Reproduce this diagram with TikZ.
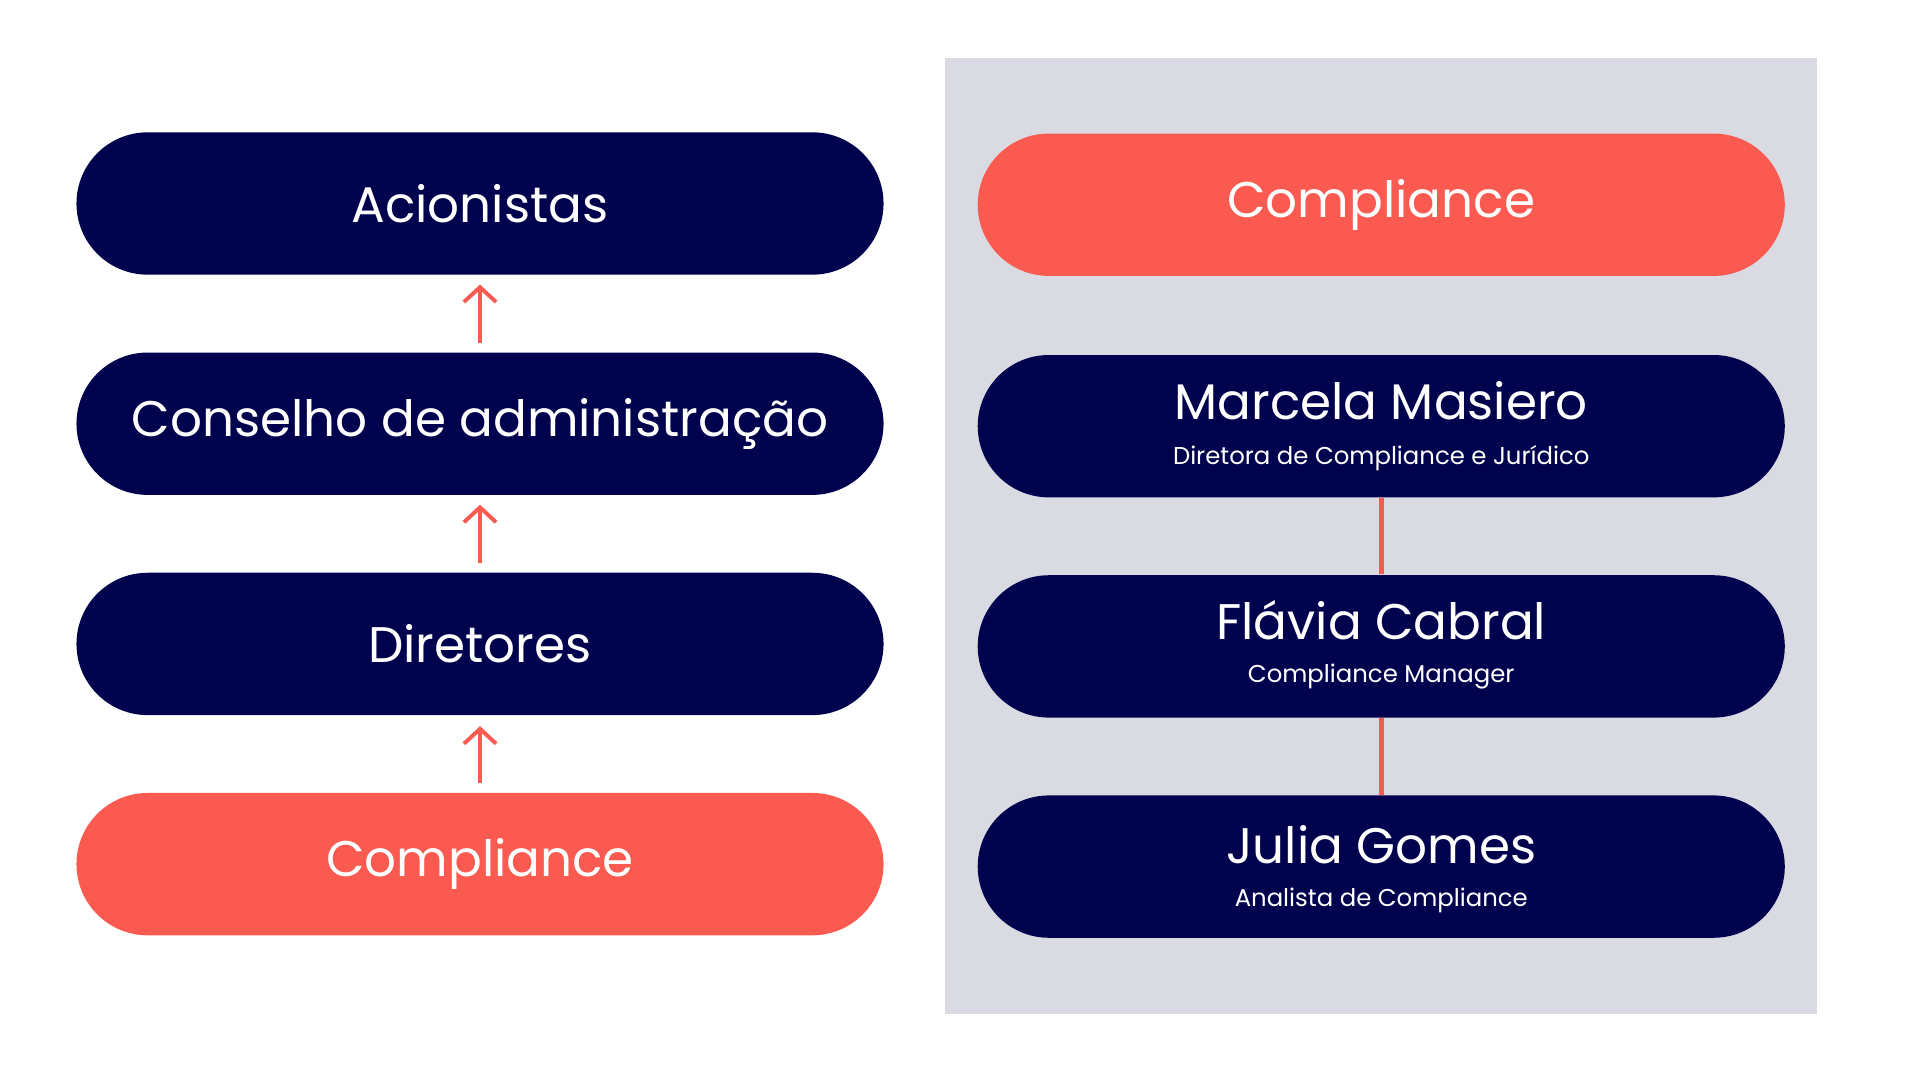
\documentclass[tikz,border=0pt]{standalone}
\usepackage{fontspec}
\setmainfont{Poppins}
\usetikzlibrary{arrows.meta}
\definecolor{navy}{HTML}{01024E}
\definecolor{coral}{HTML}{FA5A50}
\definecolor{panel}{HTML}{DADAE2}
\begin{document}
\begin{tikzpicture}[x=0.01cm,y=-0.01cm,
  pill/.style={rounded corners=0.575cm,minimum width=6.52cm,minimum height=1.15cm,inner sep=0pt},
  navyp/.style={pill,fill=navy},
  coralp/.style={pill,fill=coral},
  big/.style={text=white,font=\fontsize{11.5}{13}\selectfont},
  small/.style={text=white,font=\fontsize{5.6}{7}\selectfont},
  arr/.style={draw=coral,line width=0.9pt,-{Straight Barb[length=1.2mm,width=2.6mm]}},
  link/.style={draw=coral,line width=1.1pt}]
\useasboundingbox (0,0) rectangle (1552,873);
\fill[panel] (764,47) rectangle (1469,820);
\node[navyp,big] (a) at (388,164.5) {Acionistas};
\node[navyp,big] (b) at (388,342.5) {Conselho de administração};
\node[navyp,big] (c) at (388,520.5) {Diretores};
\node[coralp,big] (d) at (388,698.5) {Compliance};
\coordinate (d0) at (388,633); \coordinate (d1) at (388,587);
\coordinate (c0) at (388,455); \coordinate (c1) at (388,408);
\coordinate (b0) at (388,277); \coordinate (b1) at (388,230);
\draw[arr] (d0) -- (d1);
\draw[arr] (c0) -- (c1);
\draw[arr] (b0) -- (b1);
\node[coralp,big] (r1) at (1116.5,165.5) {Compliance};
\node[navyp] (r2) at (1116.5,344.5) {};
\node[navyp] (r3) at (1116.5,522.5) {};
\node[navyp] (r4) at (1116.5,700.5) {};
\draw[link] (r2.south) -- (r3.north);
\draw[link] (r3.south) -- (r4.north);
\node[big] (n2) at (1116.5,324) {Marcela Masiero};
\node[small] (s2) at (1116.5,370) {Diretora de Compliance e Jurídico};
\node[big] (n3) at (1116.5,501) {Flávia Cabral};
\node[small] (s3) at (1116.5,547) {Compliance Manager};
\node[big] (n4) at (1116.5,683) {Julia Gomes};
\node[small] (s4) at (1116.5,728) {Analista de Compliance};
\end{tikzpicture}
\end{document}
